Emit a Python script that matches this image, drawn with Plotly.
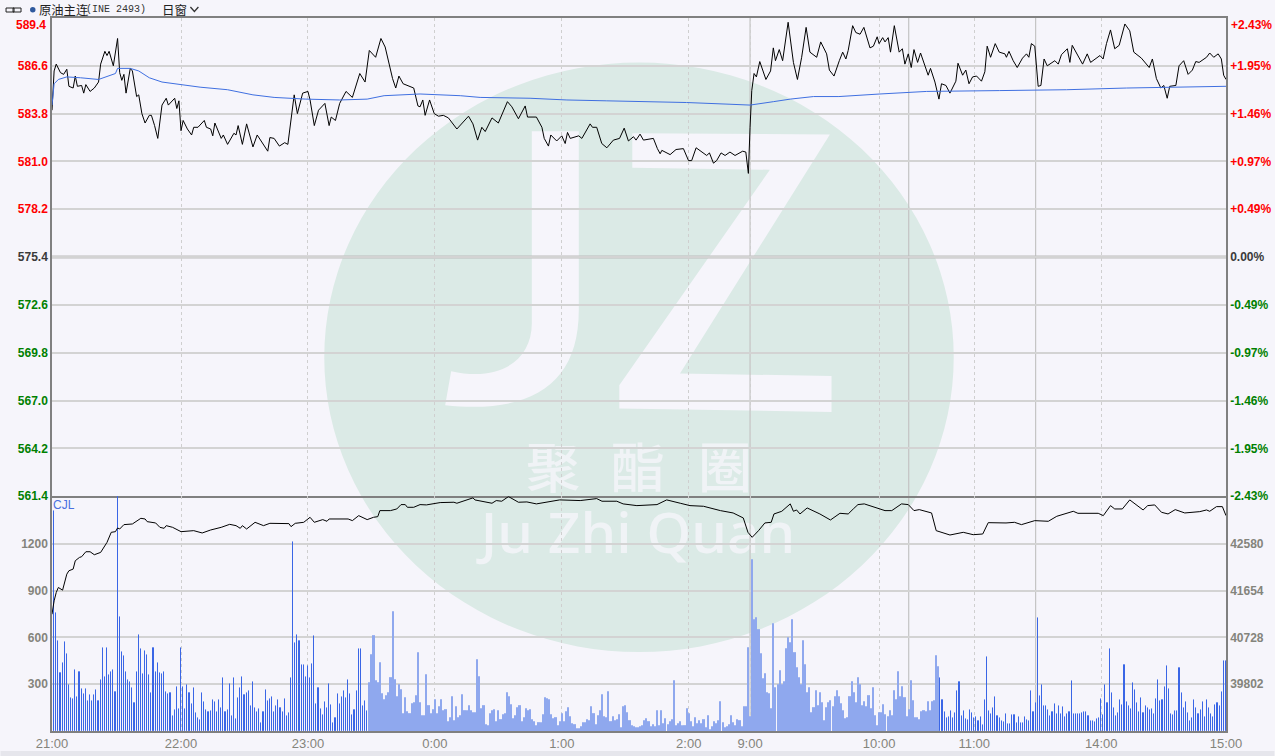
import plotly.graph_objects as go
from plotly.subplots import make_subplots

# minute bars, grouped by hour so they are easier to check against the picture
vol_21 = [60, 1410, 753, 575, 370, 434, 568, 492, 296, 210,
          206, 389, 217, 379, 268, 238, 268, 194, 232, 189,
          232, 264, 194, 328, 530, 347, 530, 360, 379, 392,
          251, 1510, 730, 504, 481, 379, 328, 315, 277, 181,
          379, 613, 523, 364, 511, 487, 357, 245, 530, 379,
          434, 372, 366, 379, 251, 238, 243, 98, 136, 281, 143]
vol_22 = [534, 281, 140, 294, 243, 174, 277, 115, 85, 68,
          243, 185, 136, 123, 130, 200, 183, 123, 200, 147,
          338, 123, 136, 302, 98, 338, 79, 211, 277, 347,
          232, 243, 255, 162, 315, 147, 119, 140, 53, 123,
          264, 194, 206, 219, 123, 162, 200, 147, 123, 206,
          98, 115, 338, 1213, 562, 613, 575, 423, 423, 347]
vol_23 = [413, 338, 430, 609, 174, 277, 143, 104, 187, 149,
          302, 168, 53, 81, 238, 174, 219, 257, 213, 328,
          238, 102, 136, 257, 523, 523, 162, 194, 130, 315,
          494, 609, 328, 315, 443, 243, 206, 232, 251, 338,
          766, 334, 226, 302, 268, 115, 219, 130, 111, 179,
          187, 232, 504, 187, 102, 100, 366, 157, 115, 143]
vol_00 = [206, 115, 162, 206, 136, 136, 64, 89, 226, 72,
          162, 89, 102, 238, 130, 136, 166, 136, 123, 123,
          460, 353, 149, 157, 47, 38, 115, 136, 143, 60,
          136, 72, 111, 115, 251, 226, 174, 81, 102, 153,
          162, 64, 89, 149, 136, 143, 77, 60, 38, 51,
          55, 111, 217, 211, 206, 111, 85, 85, 38, 64]
vol_01 = [115, 60, 128, 151, 94, 51, 40, 15, 19, 30,
          57, 57, 77, 72, 162, 111, 47, 104, 136, 238,
          98, 89, 257, 55, 98, 68, 77, 111, 23, 162,
          168, 121, 62, 38, 30, 26, 26, 30, 40, 72,
          85, 55, 28, 45, 28, 136, 40, 136, 51, 81,
          47, 62, 79, 328, 40, 51, 64, 36, 28, 149]
vol_02 = [115, 66, 34, 89, 51, 72, 51, 68, 26, 104,
          10, 34, 64, 51, 68, 194, 55, 26, 28, 47,
          102, 57, 40, 79, 64, 34, 162, 157, 540, 92]
vol_09 = [1102, 715, 728, 647, 498, 338, 370, 251, 243, 149,
          694, 281, 298, 389, 302, 319, 530, 600, 568, 715,
          498, 409, 345, 302, 579, 428, 251, 281, 121, 149,
          262, 168, 251, 185, 70, 153, 185, 200, 162, 221,
          264, 221, 179, 136, 83, 87, 217, 319, 251, 187,
          345, 302, 168, 194, 162, 226, 147, 281, 104, 40]
vol_10 = [119, 123, 174, 109, 94, 136, 102, 264, 206, 383, 226, 289, 213, 92, 143]
vol_1030 = [328, 196, 89, 89, 77, 126, 128, 130, 194, 136,
            194, 200, 487, 417, 338, 200, 123, 85, 89, 128,
            85, 115, 257, 315, 98, 125, 79, 68, 136, 115]
vol_11 = [85, 89, 60, 89, 38, 200, 472, 128, 111, 149,
          217, 98, 85, 60, 57, 111, 47, 47, 102, 102,
          51, 89, 51, 51, 89, 72, 64, 257, 123, 179]
vol_1330 = [721, 226, 296, 162, 162, 136, 98, 123, 174, 111,
            157, 111, 153, 89, 111, 123, 321, 111, 111, 111,
            111, 115, 119, 123, 98, 66, 60, 55, 77, 85]
vol_14 = [204, 102, 296, 179, 523, 243, 149, 98, 115, 200,
          168, 423, 187, 162, 140, 306, 260, 179, 123, 211,
          115, 162, 145, 136, 140, 111, 206, 328, 194, 196,
          283, 417, 270, 111, 102, 130, 130, 402, 243, 149,
          183, 115, 64, 81, 200, 149, 111, 132, 183, 89,
          200, 149, 111, 89, 166, 179, 157, 251, 447, 447]
volume = (vol_21 + vol_22 + vol_23 + vol_00 + vol_01 + vol_02 + vol_09
          + vol_10 + vol_1030 + vol_11 + vol_1330 + vol_14)

# price line turning points: bar number, price
price_t = [0, 1, 2, 4, 5.5, 7, 8, 10, 11, 12, 14, 15, 16, 18, 20, 22, 23, 25, 26, 27,
           29, 30, 31, 32, 33, 34, 35, 37, 38, 40, 41, 42.5, 44, 46, 47, 48.5, 50, 52, 54, 55,
           58, 59, 60, 61, 62, 64, 66, 67, 69, 72, 73, 75, 76, 77, 80, 81, 83, 86, 87, 88,
           90, 92, 95, 97, 100, 102, 103, 105, 107.5, 110, 111.5, 113, 114.5, 116, 118.5, 121, 122, 124, 126, 129,
           131, 132, 134, 136, 139, 142, 145.5, 148, 150, 153, 155.5, 157.5, 161, 162.5, 164, 166, 171, 173, 174, 175.3,
           176.4, 178.5, 180.7, 182.7, 185, 187.4, 191.4, 196.9, 199, 201.2, 203.2, 204.8, 208, 211, 215.3, 217.4, 220.5, 223.7, 224.8, 229,
           231.6, 232.7, 234.7, 235.8, 238.6, 241, 242.6, 243.7, 245, 249, 250.5, 254.4, 255.5, 257.5, 259.9, 262.3, 265.4, 268.3, 270.5, 272.5,
           274.9, 276.1, 278, 279.6, 284.3, 286.2, 287.5, 288.3, 292.2, 295, 298.5, 300.9, 302.4, 304.5, 309.5, 310.8, 312.7, 314.2, 316.3, 318.2,
           320.5, 322.9, 326.5, 328, 329.2, 330, 330.8, 331.9, 333, 334.6, 337.5, 339.7, 341, 342, 343.8, 345.4, 348, 350.5, 352.4, 354.4,
           356.5, 358.3, 361.5, 363.4, 366.2, 367.5, 369.7, 372.2, 373.8, 375.3, 376.4, 378.5, 380, 382, 383.8, 386.7, 388.3, 390.1, 391, 392.7,
           393.8, 395.3, 396.4, 398.2, 400.5, 402, 403.2, 404.8, 406.2, 407.5, 409.2, 410.6, 413.1, 414.2, 415.3, 417.4, 419.3, 420.5, 422.6, 424.5,
           427.3, 428.3, 430.5, 432, 433.5, 435.2, 437.1, 439.4, 441, 442.1, 443.7, 445.9, 447.8, 450.5, 451.2, 452.4, 454.4, 456.3, 458.8, 460.7,
           461.8, 463, 464.6, 466.2, 467.5, 469, 470.5, 474.1, 475.7, 477.2, 480, 481.2, 482.3, 484.6, 487.2, 489.4, 491, 495.4, 496.9, 498.5,
           500.4, 502.4, 504.5, 507.2, 509.5, 511.4, 515, 518.7, 520.2, 522.1, 524.2, 525.6, 527.2, 528.4, 531.3, 532.8, 535, 537.1, 539.1, 540.7,
           542.3, 545.8, 547.3, 549.2, 551.3, 552.8, 553.9, 555]
price = [584.0, 586.3, 586.7, 586.2, 586.1, 586.4, 585.4, 585.3, 586.0, 585.4, 585.45, 585.0, 585.5, 585.1, 585.3, 585.65, 586.7, 587.45, 587.2, 587.45,
         586.6, 587.5, 588.2, 586.2, 585.75, 586.1, 585.0, 586.45, 586.3, 584.8, 584.9, 583.8, 583.25, 583.7, 583.7, 583.1, 582.35, 584.3, 584.7, 584.3,
         584.7, 584.1, 584.55, 582.8, 583.4, 582.9, 582.55, 583.0, 583.0, 583.4, 583.0, 582.9, 582.5, 583.25, 582.35, 582.55, 582.0, 582.65, 582.55, 583.1,
         582.0, 583.2, 581.85, 582.55, 581.95, 581.6, 582.4, 582.35, 581.9, 582.1, 582.0, 583.4, 584.9, 583.8, 585.0, 585.1, 584.6, 583.1, 584.0, 584.4,
         583.1, 583.6, 583.4, 584.4, 585.1, 584.75, 586.15, 585.65, 587.5, 587.1, 588.2, 587.7, 585.85, 585.3, 586.0, 585.55, 585.3, 584.25, 584.2, 584.6,
         583.7, 584.6, 583.8, 583.65, 583.7, 583.55, 582.9, 583.65, 583.2, 582.25, 583.0, 582.75, 583.55, 583.25, 584.5, 584.2, 583.5, 584.25, 583.6, 583.6,
         583.0, 582.35, 581.9, 582.55, 582.2, 582.5, 582.05, 582.7, 582.35, 582.5, 582.35, 583.2, 583.0, 583.0, 582.05, 581.8, 582.25, 582.35, 582.95, 582.2,
         582.45, 582.25, 582.6, 582.25, 582.35, 581.75, 581.45, 581.65, 581.4, 581.7, 581.75, 581.05, 581.05, 581.8, 581.35, 581.5, 580.9, 581.05, 581.5, 581.35,
         581.55, 581.35, 581.6, 581.55, 580.3, 583.0, 585.15, 586.15, 585.95, 586.85, 585.8, 586.3, 587.65, 586.9, 587.55, 586.9, 589.15, 586.8, 585.8, 587.1,
         588.85, 587.4, 587.1, 588.0, 587.3, 586.35, 586.0, 586.9, 587.4, 587.0, 587.5, 588.95, 588.55, 588.45, 588.85, 587.65, 587.75, 588.3, 587.9, 588.25,
         588.0, 588.25, 587.4, 588.95, 587.4, 587.6, 586.7, 587.3, 586.5, 587.55, 586.8, 587.35, 586.35, 586.05, 586.45, 585.65, 584.65, 585.55, 585.45, 585.0,
         585.7, 586.75, 586.05, 586.35, 585.55, 585.95, 586.0, 585.7, 586.25, 587.75, 587.1, 587.9, 587.4, 587.3, 587.1, 587.45, 586.9, 586.5, 587.05, 587.3,
         587.1, 587.9, 587.75, 585.4, 585.45, 587.0, 586.6, 586.9, 586.7, 587.25, 587.6, 586.8, 587.8, 587.3, 586.7, 587.3, 586.8, 587.2, 587.0, 587.9,
         588.7, 587.6, 587.8, 589.05, 588.65, 587.4, 587.05, 586.5, 587.0, 585.85, 585.3, 585.45, 584.7, 585.4, 585.45, 586.6, 586.9, 586.1, 586.35, 586.85,
         586.8, 587.1, 587.35, 587.1, 587.3, 587.0, 586.05, 585.8]

# average price line
avg_t = [0, 1, 3, 7, 13.5, 22, 30, 31, 37, 41, 46, 52, 61, 70, 83, 95, 105, 120, 136, 149, 157, 174,
         193, 202.4, 226, 243.4, 262, 284, 300, 320.5, 330, 341, 349, 360, 372, 391.4, 413.5, 448, 479.6, 508, 544, 555]
avg_price = [584.3, 585.55, 585.8, 585.95, 585.9, 585.8, 586.15, 586.45, 586.45, 586.3, 585.9, 585.65, 585.5, 585.35, 585.2, 584.9, 584.75, 584.65, 584.6, 584.65, 584.85, 584.95,
             584.85, 584.75, 584.7, 584.6, 584.55, 584.5, 584.45, 584.35, 584.3, 584.5, 584.65, 584.8, 584.8, 584.95, 585.1, 585.15, 585.2, 585.3, 585.4, 585.4]

# open interest line
oi_t = [0, 1, 2, 3, 5, 7, 8, 10, 11, 13, 14, 16, 18, 20, 23, 26, 28, 30, 31, 32, 34, 38, 42, 44, 45, 49, 51, 53, 54, 57, 61, 67, 71, 75, 80, 84, 87, 89, 90, 92,
        96, 100, 103, 112, 113, 115, 119, 122, 124, 128, 130, 131, 140, 142, 145, 149, 152, 154, 155, 160, 163, 165, 167, 168, 171, 174, 177, 183.5, 190, 191.4,
        199, 200, 208, 210, 212.6, 215.8, 220.5, 224.5, 229, 240, 249.7, 257.5, 260, 267, 270, 276.5, 286, 290.6, 297, 301.6, 308, 316, 322, 326.8, 329, 331, 334, 337, 340, 341.3,
        345, 349, 350.5, 352, 353.6, 357, 363, 368, 372.5, 376.4, 378.8, 381, 384, 389.8, 393.8, 397, 401.6, 404.8, 407.5, 410, 415.8, 418, 421.3, 424.5, 430.8, 435.5, 440, 442.6, 451, 455,
        458.3, 464.6, 471, 475, 482.8, 485, 494.6, 497, 500.4, 502.4, 506, 509.5, 515.8, 518, 521.3, 524.5, 527.6, 531, 535.5, 542.6, 545.8, 547.3, 550.5, 553.3, 555]
oi = [41185, 41450, 41615, 41714, 41661, 41978, 42045, 42078, 42243, 42309, 42322, 42421, 42421, 42362, 42408, 42606, 42805, 42818, 42891, 42871, 42957, 42970, 43082, 43069, 43016, 42990, 42904, 42884, 42937, 42904, 42818, 42838, 42792, 42851, 42904, 42963, 42937, 42884, 42937, 42871,
      43003, 42937, 42983, 42977, 42917, 42983, 43003, 43102, 43003, 43056, 43023, 43069, 43069, 43036, 43135, 43056, 43102, 43115, 43234, 43234, 43267, 43353, 43353, 43300, 43300, 43353, 43347, 43393, 43400, 43380,
      43486, 43445, 43380, 43433, 43420, 43512, 43400, 43406, 43367, 43446, 43433, 43472, 43420, 43420, 43367, 43333, 43353, 43446, 43380, 43333, 43320, 43234, 43188, 43089, 42805, 42706, 42838, 42990, 43003, 43168,
      43221, 43367, 43221, 43247, 43168, 43287, 43168, 43049, 43181, 43168, 43267, 43353, 43367, 43287, 43234, 43234, 43367, 43353, 43234, 43254, 43188, 42838, 42792, 42752, 42805, 42758, 42772, 42996, 42990, 43003,
      42957, 43036, 43023, 43122, 43221, 43181, 43181, 43135, 43333, 43267, 43267, 43446, 43247, 43333, 43347, 43201, 43168, 43254, 43188, 43214, 43247, 43221, 43313, 43313, 43135]

time_ticks = [0, 61, 121, 181, 241, 301, 330, 391, 436, 496, 555]
time_labels = ["21:00", "22:00", "23:00", "0:00", "1:00", "2:00", "9:00", "10:00", "11:00", "14:00", "15:00"]
session_lines = [330, 405, 465]

prev_close = 575.4
price_ticks = [586.6, 583.8, 581.0, 578.2, 575.4, 572.6, 569.8, 567.0, 564.2, 561.4]
pct_ticks = [1.95, 1.46, 0.97, 0.49, 0.0, -0.49, -0.97, -1.46, -1.95, -2.43]
vol_ticks = [300, 600, 900, 1200]
oi_ticks = [39802, 40728, 41654, 42580]

RED = "#ff0000"
GREEN = "#008000"
DARK = "#3a3a3a"
GREY = "#84847c"
BG = "#f6f5fb"
GRID = "#d3d3d3"
AXIS = "#808080"
WATERMARK = "#dbeae6"
SOFT = "#f0f3f6"
FONT = "Liberation Sans"
BAR_STRONG = "#3a66e6"
BAR_SOFT = "#8fa8ee"

# pixel helpers for the decoration, plot area is 51.5..1226.5 x 17.5..731
def px(x):
    return (x - 51.5) / 1175


def py(y):
    return (731 - y) / 713.5


def path(points):
    return "M " + " L ".join(f"{px(x):.4f},{py(y):.4f}" for x, y in points) + " Z"


def tint(value):
    return RED if value > 0 else GREEN if value < 0 else DARK


def span(text, color):
    return f'<span style="color:{color}">{text}</span>'


fig = make_subplots(
    rows=2, cols=1, shared_xaxes=True, vertical_spacing=0,
    row_heights=[478.5, 235],
    specs=[[{"secondary_y": True}], [{"secondary_y": True}]],
)

fig.add_trace(go.Scatter(x=price_t, y=price, mode="lines", line=dict(color="#000000", width=1)), row=1, col=1)
fig.add_trace(go.Scatter(x=avg_t, y=avg_price, mode="lines", line=dict(color="#3f6fe0", width=1)), row=1, col=1)
# same price line on the percent axis, only there so plotly draws that axis
fig.add_trace(go.Scatter(x=price_t, y=[(p / prev_close - 1) * 100 for p in price], mode="lines",
                         opacity=0, hoverinfo="skip"), row=1, col=1, secondary_y=True)
# very thin bars with an outline, the outline gives an even stroke. middle of the session is paler and wider
soft = [150 <= i < 420 for i in range(len(volume))]
bar_colors = [BAR_SOFT if s else BAR_STRONG for s in soft]
fig.add_trace(go.Bar(x=list(range(len(volume))), y=volume, width=0.05,
                     marker=dict(color=bar_colors,
                                 line=dict(color=bar_colors, width=[2 if s else 1 for s in soft]))),
              row=2, col=1)
fig.add_trace(go.Scatter(x=oi_t, y=oi, mode="lines", line=dict(color="#000000", width=1)),
              row=2, col=1, secondary_y=True)

# watermark sits under the grid
fig.add_shape(type="circle", xref="paper", yref="paper", x0=px(324), x1=px(954), y0=py(652), y1=py(62),
              fillcolor=WATERMARK, line_width=0, layer="below")
j_letter = ("M {0:.4f},{1:.4f} L {2:.4f},{1:.4f} L {2:.4f},{3:.4f} "
            "C {2:.4f},{4:.4f} {5:.4f},{6:.4f} {7:.4f},{8:.4f} "
            "L {9:.4f},{10:.4f} C {11:.4f},{12:.4f} {0:.4f},{13:.4f} {0:.4f},{14:.4f} Z").format(
    px(531.7), py(130.7), px(578.7), py(310), py(385), px(530), py(414), px(445), py(405),
    px(451), py(371), px(500), py(382), py(360), py(323))
fig.add_shape(type="path", xref="paper", yref="paper", path=j_letter, fillcolor=BG, line_width=0, layer="below")
fig.add_shape(type="path", xref="paper", yref="paper", layer="below", fillcolor=BG, line_width=0,
              path=path([(632.3, 132.7), (830, 134), (680, 373.3), (831.7, 375.7), (831.7, 411.7),
                         (619.3, 408.3), (619.3, 385), (770, 169.3), (632.3, 167.3)]))
for cx, ch in zip([553, 638, 725], "聚酯圈"):
    fig.add_shape(type="rect", xref="paper", yref="paper", x0=px(cx - 40), x1=px(cx + 40), y0=py(500), y1=py(446),
                  line_width=0, layer="below",
                  label=dict(text=ch, font=dict(family="Noto Sans CJK SC", size=54, color=SOFT, weight=500),
                             textposition="middle center"))
fig.add_shape(type="rect", xref="paper", yref="paper", x0=px(438), x1=px(838), y0=py(565), y1=py(505),
              line_width=0, layer="below",
              label=dict(text="Ju Zhi Quan", font=dict(family="Noto Sans", size=57, color=SOFT, weight=500),
                         textposition="middle center"))

# session boundaries are solid, the hours are the dashed x grid
for t in session_lines:
    fig.add_shape(type="line", xref="x", yref="paper", x0=t, x1=t, y0=0, y1=1,
                  line=dict(color="#c4c4c4", width=1.2), layer="below")
fig.add_shape(type="line", xref="x", yref="y", x0=0, x1=555, y0=prev_close, y1=prev_close,
              line=dict(color="#bcbcbc", width=3), layer="below")

grid_x = dict(domain=[0, 1], range=[0, 555], tickmode="array", tickvals=time_ticks, showgrid=True, griddash="3px,3px",
              gridcolor="#cfcfcf", gridwidth=1, zeroline=False, ticks="", showspikes=False, automargin=False)
fig.update_xaxes(**grid_x)
fig.update_xaxes(row=1, col=1, showticklabels=False, showline=True, linecolor=AXIS, linewidth=2, mirror=True)
fig.update_xaxes(row=2, col=1, ticktext=time_labels, tickfont=dict(family=FONT, size=13, color=GREY),
                 showline=True, linecolor=AXIS, linewidth=1.5)

fig.update_yaxes(row=1, col=1, secondary_y=False, range=[561.4, 589.4], tickmode="array", tickvals=price_ticks,
                 ticktext=[span(f"{v:.1f}", tint(v - prev_close)) for v in price_ticks],
                 tickfont=dict(family=FONT, size=12, weight=700), showgrid=True, gridcolor=GRID, gridwidth=1.5,
                 zeroline=False, showline=True, linecolor=AXIS, linewidth=1.5, automargin=False)
fig.update_yaxes(row=1, col=1, secondary_y=True, range=[-2.433, 2.433], tickmode="array", tickvals=pct_ticks,
                 ticktext=[span(f"{v:+.2f}%" if v else "0.00%", tint(v)) for v in pct_ticks],
                 tickfont=dict(family=FONT, size=12, weight=700), showgrid=False, zeroline=False,
                 showline=True, linecolor=AXIS, linewidth=1.5, automargin=False)
fig.update_yaxes(row=2, col=1, secondary_y=False, range=[0, 1505], tickmode="array", tickvals=vol_ticks,
                 tickfont=dict(family=FONT, size=12, color=GREY, weight=700), showgrid=True, gridcolor=GRID,
                 gridwidth=1.5, zeroline=False, showline=True, linecolor=AXIS, linewidth=1.5, automargin=False)
fig.update_yaxes(row=2, col=1, secondary_y=True, range=[38876, 43520], tickmode="array", tickvals=oi_ticks,
                 ticktext=[str(v) for v in oi_ticks],
                 tickfont=dict(family=FONT, size=12, color=GREY, weight=700), showgrid=False, zeroline=False,
                 showline=True, linecolor=AXIS, linewidth=1.5, automargin=False)

# header strip, the first labels are pushed below the top border, bottom status strip
fig.add_shape(type="rect", xref="paper", yref="paper", x0=px(0), x1=px(1275), y0=py(756), y1=py(751),
              fillcolor="#e6e6ec", line_width=0, layer="below")
fig.add_shape(type="circle", xref="paper", yref="paper", x0=px(29.5), x1=px(35), y0=py(12), y1=py(6.5),
              fillcolor="#2f5a9e", line_width=0)
for x0, x1 in [(5.5, 13.5), (12.5, 20.5)]:
    fig.add_shape(type="rect", xref="paper", yref="paper", x0=px(x0), x1=px(x1), y0=py(11.5), y1=py(7.5),
                  line=dict(color="#222222", width=1))
fig.add_shape(type="path", xref="paper", yref="paper", line=dict(color="#333333", width=1.3),
              path=f"M {px(190):.4f},{py(6.5):.4f} L {px(194):.4f},{py(11):.4f} L {px(198):.4f},{py(6.5):.4f}")

labels = [
    (37, 9, "left", "原油主连", "Noto Sans CJK SC", 12.3, "#222222", 400),
    (85, 9, "left", "(INE 2493)", "Liberation Mono", 10, "#333333", 400),
    (161, 9, "left", "日窗", "Noto Sans CJK SC", 12.5, "#222222", 400),
    (46, 25, "right", "589.4", FONT, 12, RED, 700),
    (1231, 25, "left", "+2.43%", FONT, 12, RED, 700),
    (51, 505, "left", "CJL", FONT, 12, "#4a70e0", 400),
]
for x, y, anchor, text, family, size, color, weight in labels:
    fig.add_annotation(x=px(x), y=py(y), xref="paper", yref="paper", text=text, showarrow=False,
                       xanchor=anchor, yanchor="middle", borderpad=0,
                       font=dict(family=family, size=size, color=color, weight=weight))

fig.update_layout(
    width=1275, height=756, margin=dict(l=51.5, r=48.5, t=17.5, b=25),
    paper_bgcolor=BG, plot_bgcolor=BG, showlegend=False, bargap=0,
)

fig.write_html("out.html", post_script="document.body.style.margin='0';",
               config={"displayModeBar": False})
